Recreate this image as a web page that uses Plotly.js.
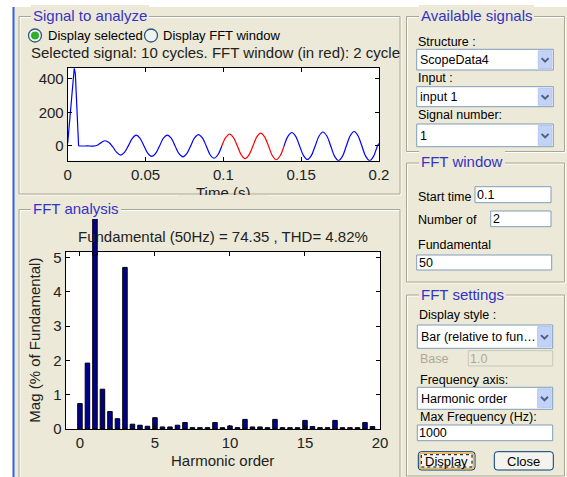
<!DOCTYPE html>
<html><head><meta charset="utf-8">
<script src="https://cdn.plot.ly/plotly-3.0.1.min.js"></script>
<style>html,body{margin:0;padding:0;background:#fff;overflow:hidden}#chart{width:567px;height:477px}</style>
</head><body><div id="chart"></div>
<script>
// ---------------- data ----------------
const spikeTime  = [0, 0.001, 0.002, 0.003, 0.0037, 0.0042, 0.0049, 0.006, 0.007];
const spikeValue = [17, 128, 240, 350, 440, 462, 430, 212, 0];
const waveTime = [0.007, 0.009, 0.0115, 0.014, 0.0165, 0.019, 0.0215, 0.024, 0.0265, 0.029,
  0.0315, 0.034, 0.0365, 0.039, 0.0415, 0.044, 0.0465, 0.049, 0.0515, 0.054,
  0.0565, 0.059, 0.0615, 0.064, 0.0665, 0.069, 0.0715, 0.074, 0.0765, 0.079,
  0.0815, 0.084, 0.0865, 0.089, 0.0915, 0.094, 0.0965, 0.099, 0.1015, 0.104,
  0.1065, 0.109, 0.1115, 0.114, 0.1165, 0.119, 0.1215, 0.124, 0.1265, 0.129,
  0.1315, 0.134, 0.1365, 0.139, 0.1415, 0.144, 0.1465, 0.149, 0.1515, 0.154,
  0.1565, 0.159, 0.1615, 0.164, 0.1665, 0.169, 0.1715, 0.174, 0.1765, 0.179,
  0.1815, 0.184, 0.1865, 0.189, 0.1915, 0.194, 0.1965, 0.199, 0.2];
const waveValue = [0, 0, 0, 0, -1, 4, 20, 31, 21, -6,
  -38, -54, -38, 2, 45, 64, 45, 0, -44, -62,
  -44, 0, 46, 65, 46, 0, -46, -65, -46, 0,
  48, 68, 48, 0, -52, -73, -52, 0, 50, 71,
  50, 0, -53, -75, -53, 0, 54, 76, 54, 0,
  -58, -82, -58, 0, 57, 80, 57, 0, -57, -80,
  -57, 0, 59, 83, 59, 0, -62, -87, -62, 0,
  61, 86, 61, 0, -62, -87, -62, 0, 14];
const fftWindow = [0.099, 0.139];           // FFT window shown in red (2 cycles)
const timeTicks = [0, 0.05, 0.1, 0.15, 0.2];
const signalTicks = [0, 200, 400];

const harmonicOrder = [0, 0.5, 1, 1.5, 2, 2.5, 3, 3.5, 4, 4.5, 5, 5.5, 6, 6.5, 7, 7.5, 8, 8.5, 9, 9.5,
  10, 10.5, 11, 11.5, 12, 12.5, 13, 13.5, 14, 14.5, 15, 15.5, 16, 16.5, 17, 17.5, 18, 18.5, 19, 19.5];
const magnitude = [0.74, 1.92, 100, 1.16, 0.51, 0.30, 4.71, 0.14, 0.11, 0.08,
  0.33, 0.06, 0.06, 0.11, 0.19, 0.04, 0.04, 0.04, 0.19, 0.04,
  0.09, 0.04, 0.28, 0.06, 0.06, 0.04, 0.28, 0.04, 0.04, 0.04,
  0.25, 0.07, 0.04, 0.04, 0.25, 0.04, 0.04, 0.04, 0.19, 0.07];
const harmonicTicks = [0, 5, 10, 15, 20];
const magTicks = [0, 1, 2, 3, 4, 5];

// ---------------- layout helpers ----------------
const W = 567, H = 477;
const px = v => v / W, py = v => 1 - v / H;
const BG = '#ECE9D8', BLUE = '#3434C4', UI = 'Liberation Sans, Arial, sans-serif';
const AX = 'Liberation Sans, Arial, sans-serif';
const shapes = [], annotations = [];

function box(x0, y0, x1, y1, fill, line, lw, extra) {
  shapes.push(Object.assign({type: 'rect', xref: 'paper', yref: 'paper', layer: 'above',
    x0: px(x0), x1: px(x1), y0: py(y1), y1: py(y0),
    fillcolor: fill || 'rgba(0,0,0,0)',
    line: {color: line || 'rgba(0,0,0,0)', width: lw == null ? 1 : lw}}, extra || {}));
}
function path(pts, color, lw, fill) {
  let d = '';
  pts.forEach((p, i) => { d += (i ? ' L ' : 'M ') + px(p[0]) + ',' + py(p[1]); });
  if (fill) d += ' Z';
  shapes.push({type: 'path', xref: 'paper', yref: 'paper', layer: 'above', path: d,
    line: {color: color, width: lw}, fillcolor: fill || 'rgba(0,0,0,0)'});
}
function rpath(x0, y0, x1, y1, r) {
  const X = px, Y = py;
  return 'M ' + X(x0 + r) + ',' + Y(y0) + ' L ' + X(x1 - r) + ',' + Y(y0) +
    ' Q ' + X(x1) + ',' + Y(y0) + ' ' + X(x1) + ',' + Y(y0 + r) +
    ' L ' + X(x1) + ',' + Y(y1 - r) + ' Q ' + X(x1) + ',' + Y(y1) + ' ' + X(x1 - r) + ',' + Y(y1) +
    ' L ' + X(x0 + r) + ',' + Y(y1) + ' Q ' + X(x0) + ',' + Y(y1) + ' ' + X(x0) + ',' + Y(y1 - r) +
    ' L ' + X(x0) + ',' + Y(y0 + r) + ' Q ' + X(x0) + ',' + Y(y0) + ' ' + X(x0 + r) + ',' + Y(y0) + ' Z';
}
function txt(x, y, s, o) {
  o = o || {};
  const a = {xref: 'paper', yref: 'paper', x: px(x), y: py(y), text: s, showarrow: false,
    xanchor: o.xa || 'left', yanchor: o.ya || 'middle',
    font: {family: o.fam || UI, size: o.size || 12.5, color: o.color || '#000'},
    borderpad: o.pad == null ? 0 : o.pad, borderwidth: 0, textangle: o.angle || 0};
  if (o.bg) a.bgcolor = o.bg;
  if (o.w) a.width = o.w;
  if (o.h) a.height = o.h;
  annotations.push(a);
}
function panel(x0, y0, x1, y1, title, tx) {
  box(x0 + 1, y0 + 1, x1 + 1, y1 + 1, null, '#FFFFFF', 1);
  box(x0, y0, x1, y1, null, '#A8A696', 1);
  txt(tx, y0 - 1, title, {size: 15, color: BLUE, bg: BG, pad: 2});
}
function chevron(cx, cy) {
  path([[cx - 3.5, cy - 1.5], [cx, cy + 2], [cx + 3.5, cy - 1.5]], '#4D6185', 2);
}
function dropdown(x0, y0, x1, y1, label) {
  box(x0, y0, x1, y1, '#FFFFFF', '#7F9DB9', 1);
  box(x1 - 15, y0 + 1.5, x1 - 1.5, y1 - 1.5, '#C3D3F8', '#B4C7F2', 1);
  chevron(x1 - 8.2, (y0 + y1) / 2);
  txt(x0 + 3.5, (y0 + y1) / 2 + 0.5, label);
}
function edit(x0, y0, x1, y1, label, disabled) {
  box(x0, y0, x1, y1, disabled ? BG : '#FFFFFF', disabled ? '#C9C7BA' : '#7F9DB9', 1);
  txt(x0 + 2, (y0 + y1) / 2 + 0.3, label, {color: disabled ? '#ACA899' : '#000'});
}
function button(x0, y0, x1, y1, label, focused) {
  shapes.push({type: 'path', xref: 'paper', yref: 'paper', layer: 'above', path: rpath(x0, y0, x1, y1, 3),
    fillcolor: '#F4F3EE', line: {color: '#003C74', width: 1}});
  if (focused) {
    shapes.push({type: 'path', xref: 'paper', yref: 'paper', layer: 'above', path: rpath(x0 + 1.5, y0 + 1.5, x1 - 1.5, y1 - 1.5, 2),
      fillcolor: 'rgba(0,0,0,0)', line: {color: '#F2B54D', width: 1.5}});
    box(x0 + 3, y0 + 3, x1 - 3, y1 - 3, null, '#000', 1, {line: {color: '#000', width: 1, dash: 'dot'}});
  }
  txt((x0 + x1) / 2, (y0 + y1) / 2 + 0.5, label, {xa: 'center', size: 13});
}
function radio(cx, cy, on) {
  shapes.push({type: 'circle', xref: 'paper', yref: 'paper', layer: 'above',
    x0: px(cx - 6.5), x1: px(cx + 6.5), y0: py(cy + 6.5), y1: py(cy - 6.5),
    fillcolor: '#F3F3EE', line: {color: '#2A5A80', width: 1.3}});
  if (on) shapes.push({type: 'circle', xref: 'paper', yref: 'paper', layer: 'above',
    x0: px(cx - 3.6), x1: px(cx + 3.6), y0: py(cy + 3.6), y1: py(cy - 3.6),
    fillcolor: '#2DB22D', line: {color: '#1F9A1F', width: 0.8}});
}

// ---------------- window chrome ----------------
box(0, 0, 567, 7, '#FFFFFF', null, 0);
box(0, 0, 12.5, 477, '#FFFFFF', null, 0);
box(12.5, 7, 14.5, 477, '#2E64E8', null, 0);

// ---------------- panels ----------------
panel(19, 16.5, 400, 194, 'Signal to analyze', 31);
panel(19, 209.5, 400, 490, 'FFT analysis', 31);
panel(406.5, 16.5, 564.5, 151.5, 'Available signals', 419);
panel(406.5, 163, 564.5, 282, 'FFT window', 419);
panel(406.5, 295, 564.5, 476, 'FFT settings', 419);

// signal panel widgets
radio(35, 35.5, true);
txt(47.5, 35.5, 'Display selected', {size: 13});
radio(151, 35.5, false);
txt(163, 35.5, 'Display FFT window', {size: 13});
txt(30.5, 52.5, 'Selected signal: 10 cycles. FFT window (in red): 2 cycle', {size: 15, color: '#222'});

// available signals
txt(418.3, 41.5, 'Structure :');
dropdown(416.7, 49.3, 553.3, 70, 'ScopeData4');
txt(418.3, 77.5, 'Input :');
dropdown(416.7, 86.7, 553.3, 106.7, 'input 1');
txt(418.3, 114.5, 'Signal number:');
dropdown(416.7, 124, 553.3, 146.7, '1');

// FFT window
txt(418.3, 196.5, 'Start time');
edit(475, 186.7, 551, 202.7, '0.1');
txt(418.3, 220, 'Number of');
edit(490.7, 211, 551, 226.7, '2');
txt(418.3, 245, 'Fundamental');
edit(416.7, 255, 551.7, 270, '50');

// FFT settings
txt(418.7, 315, 'Display style :');
dropdown(417.3, 325, 552.7, 348.3, 'Bar (relative to fun…');
txt(420, 359.3, 'Base', {color: '#ACA899'});
edit(468.3, 350.7, 552.7, 366, '1.0', true);
txt(420, 380, 'Frequency axis:');
dropdown(417.3, 387.3, 552.7, 409.3, 'Harmonic order');
txt(420, 416.7, 'Max Frequency (Hz):');
edit(417.3, 425, 552.7, 440.7, '1000');
button(418.3, 451.7, 475, 470, 'Display', true);
button(494.3, 451.7, 553.3, 470, 'Close', false);

// ---------------- plot areas ----------------
const sig = {x0: 67.7, x1: 379, y0: 68, y1: 160.7};
const fft = {x0: 65.7, x1: 380, y0: 252.3, y1: 429};

// axis titles / chart title (as text)
txt((sig.x0 + sig.x1) / 2, 192, 'Time (s)', {xa: 'center', size: 15, fam: AX, color: '#222'});
txt((sig.x0 + sig.x1) / 2, 201.8, ' ', {xa: 'center', bg: BG, w: 90, h: 12.5});
txt((fft.x0 + fft.x1) / 2, 236.7, 'Fundamental (50Hz) = 74.35 , THD= 4.82%', {xa: 'center', size: 15, fam: AX, color: '#222'});
txt((fft.x0 + fft.x1) / 2, 460, 'Harmonic order', {xa: 'center', size: 15, fam: AX, color: '#222'});
txt(35, (fft.y0 + fft.y1) / 2, 'Mag (% of Fundamental)', {xa: 'center', size: 15, fam: AX, color: '#222', angle: -90});

// ---------------- traces ----------------
const eps = 1e-9;
const idxBefore = waveTime.map((t, i) => i).filter(i => waveTime[i] <= fftWindow[0] + eps);
const idxWin = waveTime.map((t, i) => i).filter(i => waveTime[i] >= fftWindow[0] - eps && waveTime[i] <= fftWindow[1] + eps);
const idxAfter = waveTime.map((t, i) => i).filter(i => waveTime[i] >= fftWindow[1] - eps);
const pick = (idx, arr) => idx.map(i => arr[i]);
const waveLine = c => ({color: c, width: 1.2, shape: 'spline', smoothing: 1});
const traces = [
  {type: 'scatter', mode: 'lines', x: spikeTime, y: spikeValue, xaxis: 'x', yaxis: 'y',
    line: {color: '#0000FF', width: 1.2}, hoverinfo: 'skip'},
  {type: 'scatter', mode: 'lines', x: pick(idxBefore, waveTime), y: pick(idxBefore, waveValue), xaxis: 'x', yaxis: 'y',
    line: waveLine('#0000FF'), hoverinfo: 'skip'},
  {type: 'scatter', mode: 'lines', x: pick(idxWin, waveTime), y: pick(idxWin, waveValue), xaxis: 'x', yaxis: 'y',
    line: waveLine('#FF0000'), hoverinfo: 'skip'},
  {type: 'scatter', mode: 'lines', x: pick(idxAfter, waveTime), y: pick(idxAfter, waveValue), xaxis: 'x', yaxis: 'y',
    line: waveLine('#0000FF'), hoverinfo: 'skip'},
  {type: 'bar', x: harmonicOrder, y: magnitude, xaxis: 'x2', yaxis: 'y2', width: 0.3,
    marker: {color: '#00008C', line: {color: '#000000', width: 1}}, hoverinfo: 'skip'}
];

// part of the over-range (fundamental) bar drawn above the axes box, as in the original
const magTop = 5.15, barW = 0.3;
const overTopPx = 218.3;
harmonicOrder.forEach((h, i) => {
  if (magnitude[i] > magTop) {
    shapes.push({type: 'rect', xref: 'x2', yref: 'paper', layer: 'above',
      x0: h - barW / 2, x1: h + barW / 2, y0: py(fft.y0 + 3), y1: py(overTopPx),
      fillcolor: '#00008C', line: {color: '#000000', width: 1}});
  }
});

const tickfont = {family: AX, size: 15, color: '#222'};
const axBase = {showline: true, linecolor: '#000', linewidth: 1, mirror: 'allticks', ticks: 'inside',
  ticklen: 4, tickcolor: '#000', showgrid: false, zeroline: false, tickfont: tickfont, fixedrange: true};

const layout = {
  width: W, height: H, margin: {l: 0, r: 0, t: 0, b: 0}, autosize: false,
  paper_bgcolor: BG, plot_bgcolor: '#FFFFFF', showlegend: false,
  xaxis: Object.assign({}, axBase, {domain: [px(sig.x0), px(sig.x1)], range: [0, 0.2], tickvals: timeTicks,
    ticktext: timeTicks.map(String), anchor: 'y'}),
  yaxis: Object.assign({}, axBase, {domain: [py(sig.y1), py(sig.y0)], range: [-87.5, 463.5], tickvals: signalTicks, anchor: 'x'}),
  xaxis2: Object.assign({}, axBase, {domain: [px(fft.x0), px(fft.x1)], range: [-0.95, 20], tickvals: harmonicTicks, anchor: 'y2'}),
  yaxis2: Object.assign({}, axBase, {domain: [py(fft.y1), py(fft.y0)], range: [0, magTop], tickvals: magTicks, anchor: 'x2'}),
  shapes: shapes, annotations: annotations, bargap: 0
};

Plotly.newPlot('chart', traces, layout, {staticPlot: true, displayModeBar: false});
</script>
</body></html>
